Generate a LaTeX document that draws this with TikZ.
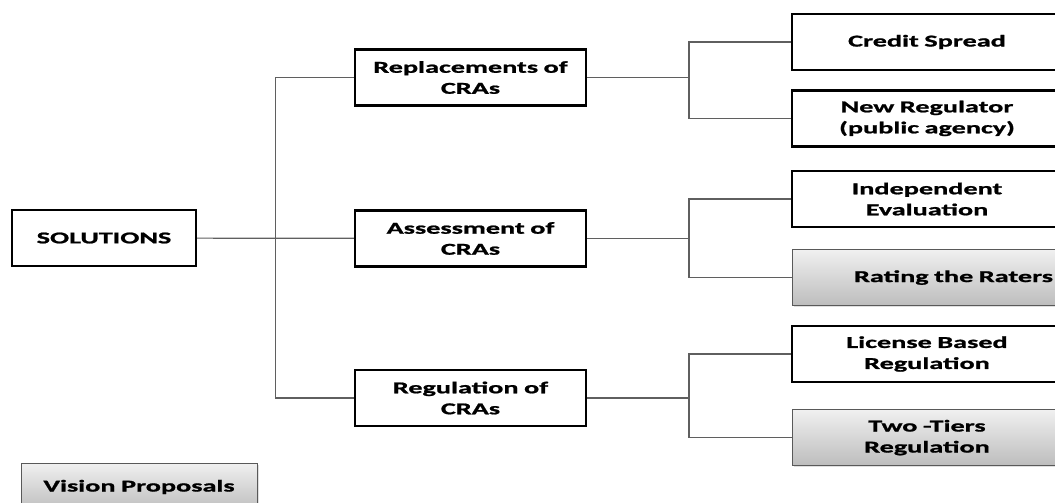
\documentclass[tikz,border=0pt]{standalone}
\usepackage{fontspec}
\setmainfont{Carlito}[FakeStretch=1.7, BoldFeatures={FakeBold=1.2}]
\usetikzlibrary{calc,positioning,shadows}
\definecolor{lgray}{RGB}{240, 240, 240}
\definecolor{dgray}{RGB}{189, 189, 189}
\definecolor{lline}{RGB}{95, 95, 95}
\tikzstyle{block} = [rectangle, draw, line width=2.4pt, fill=white,
  text centered, inner sep=0pt, minimum height=56pt,
  font=\fontsize{16.6}{21}\selectfont\bfseries]
\tikzstyle{vision} = [block, draw=black!65, line width=0.8pt,
  top color=lgray, bottom color=dgray,
  drop shadow={opacity=0.25, shadow xshift=1.5pt, shadow yshift=-1.5pt}]
\tikzstyle{line} = [draw, line width=1.2pt, color=lline]

\begin{document}
\begin{tikzpicture}[x=1pt, y=-1pt]

  \useasboundingbox (0,0) rectangle (1055,503);

  %%%%%%%%%%%%%%%%%%%%%%%%%%%%%%%%%%%%%%%%%%%%%%%%%%%%%%%%%%%%%%
  %                    ROOT                                    %
  %%%%%%%%%%%%%%%%%%%%%%%%%%%%%%%%%%%%%%%%%%%%%%%%%%%%%%%%%%%%%%

  \node [block, text width=184pt] (solutions) at (104,238) {SOLUTIONS};

  %%%%%%%%%%%%%%%%%%%%%%%%%%%%%%%%%%%%%%%%%%%%%%%%%%%%%%%%%%%%%%
  %                    MIDDLE COLUMN                           %
  %%%%%%%%%%%%%%%%%%%%%%%%%%%%%%%%%%%%%%%%%%%%%%%%%%%%%%%%%%%%%%

  \node [block, text width=231pt] (replacements) at (470.5,77.5) {Replacements of\\CRAs};
  \node [block, text width=231pt] (assessment) at (470.5,238.5) {Assessment of\\CRAs};
  \node [block, text width=231pt] (regulation) at (470.5,398) {Regulation of\\CRAs};

  %%%%%%%%%%%%%%%%%%%%%%%%%%%%%%%%%%%%%%%%%%%%%%%%%%%%%%%%%%%%%%
  %                    RIGHT COLUMN                            %
  %%%%%%%%%%%%%%%%%%%%%%%%%%%%%%%%%%%%%%%%%%%%%%%%%%%%%%%%%%%%%%

  \node [block, text width=270pt] (credit-spread) at (927,42) {Credit Spread};
  \node [block, text width=270pt, below = 18pt of credit-spread] (new-regulator) {New Regulator\\(public agency)};
  \node [block, text width=270pt] (independent-evaluation) at (927,199) {Independent\\Evaluation};
  \node [vision, text width=252pt, inner xsep=9pt, align=right,
    below = 21pt of independent-evaluation] (rating-raters) {Rating the Raters};
  \node [block, text width=270pt] (license-regulation) at (927,354) {License Based\\Regulation};
  \node [vision, text width=270pt, below = 26pt of license-regulation] (two-tiers) {Two -Tiers\\Regulation};

  %%%%%%%%%%%%%%%%%%%%%%%%%%%%%%%%%%%%%%%%%%%%%%%%%%%%%%%%%%%%%%
  %                    LEGEND                                  %
  %%%%%%%%%%%%%%%%%%%%%%%%%%%%%%%%%%%%%%%%%%%%%%%%%%%%%%%%%%%%%%

  \node [vision, text width=236pt, minimum height=48pt] (vision-proposals) at (139,487) {Vision Proposals};

  % forks
  \coordinate (trunk) at ($(solutions.east)!0.5!(assessment.west)$);
  \coordinate (replacements-fork) at ($(replacements.east)!0.5!(replacements.east -| credit-spread.west)$);
  \coordinate (assessment-fork) at ($(assessment.east)!0.5!(assessment.east -| credit-spread.west)$);
  \coordinate (regulation-fork) at ($(regulation.east)!0.5!(regulation.east -| credit-spread.west)$);

  \path [line] (solutions) -- (assessment);
  \path [line] (replacements) -| (trunk) |- (regulation);

  \path [line] (replacements) -- (replacements-fork);
  \path [line] (credit-spread) -| (replacements-fork) |- (new-regulator);
  \path [line] (assessment) -- (assessment-fork);
  \path [line] (independent-evaluation) -| (assessment-fork) |- (rating-raters);
  \path [line] (regulation) -- (regulation-fork);
  \path [line] (license-regulation) -| (regulation-fork) |- (two-tiers);

\end{tikzpicture}
\end{document}
